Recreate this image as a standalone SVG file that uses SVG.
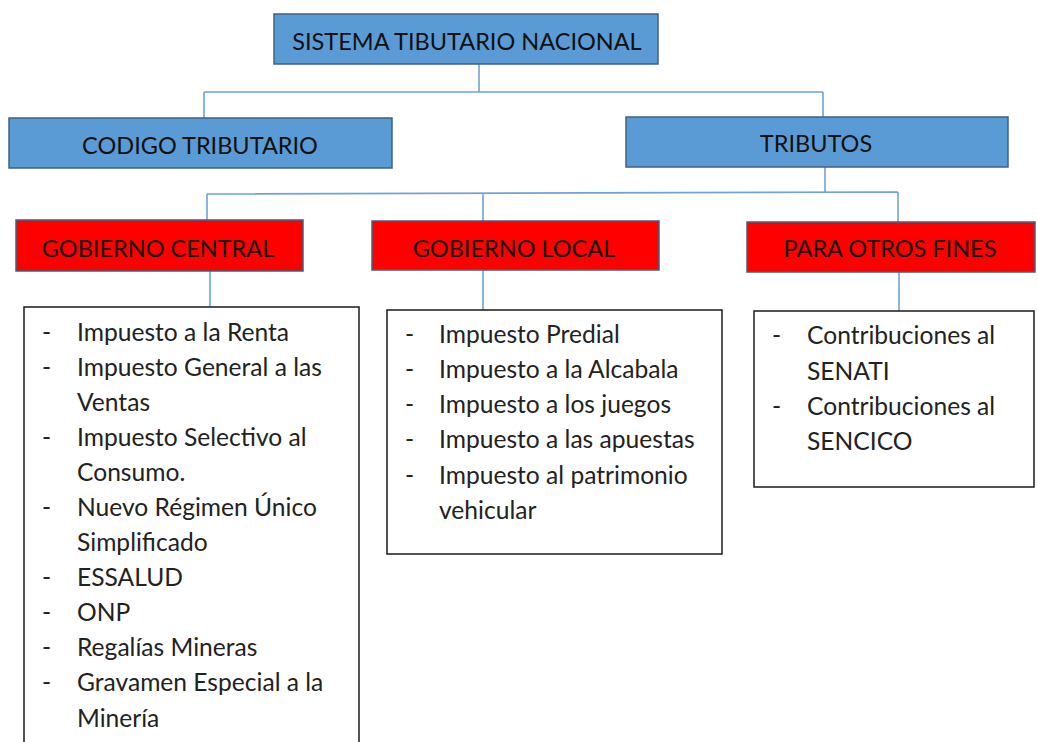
<svg xmlns="http://www.w3.org/2000/svg" width="1038" height="742" viewBox="0 0 1038 742">
<style>
.blue{fill:#5b9bd5;stroke:#41607f;stroke-width:1.5}
.red{fill:#ff0000;stroke:#41607f;stroke-width:1.5}
.list{fill:#ffffff;stroke:#1a1a1a;stroke-width:1.5}
.hd{font-family:Lato,"Open Sans","Liberation Sans",sans-serif;font-size:23.5px;fill:#111;text-anchor:middle}
.it{font-family:Lato,"Open Sans","Liberation Sans",sans-serif;font-size:24.6px;fill:#222}
.conn{fill:none;stroke:#6fa3d8;stroke-width:1.6}
</style>
<rect width="1038" height="742" fill="#ffffff"/>
<g id="connectors">
<path class="conn" d="M479,64 V92 M204,92 H823 M204,92 V118 M823,92 V117"/>
<path class="conn" d="M825,167 V193 M207,194 L898,192 M207,194 V220 M483,193 V221 M898,192 V222"/>
<path class="conn" d="M210,271 V307 M483,270 V310 M899,272 V311"/>
</g>
<g id="n-sistema">
<rect class="blue" x="274" y="14" width="384" height="50"/>
<text class="hd" x="467" y="50">SISTEMA TIBUTARIO NACIONAL</text>
</g>
<g id="n-codigo">
<rect class="blue" x="9" y="118" width="383" height="50"/>
<text class="hd" x="200" y="154">CODIGO TRIBUTARIO</text>
</g>
<g id="n-tributos">
<rect class="blue" x="626" y="117" width="382" height="50"/>
<text class="hd" x="816" y="152">TRIBUTOS</text>
</g>
<g id="n-central">
<rect class="red" x="16" y="220" width="287" height="51"/>
<text class="hd" x="158" y="257">GOBIERNO CENTRAL</text>
</g>
<g id="n-local">
<rect class="red" x="372" y="221" width="287" height="49"/>
<text class="hd" x="514" y="257">GOBIERNO LOCAL</text>
</g>
<g id="n-otros">
<rect class="red" x="747" y="222" width="288" height="50"/>
<text class="hd" x="890" y="257">PARA OTROS FINES</text>
</g>
<g id="n-lista-central">
<rect class="list" x="24" y="307" width="335" height="445"/>
<text class="it" x="42" y="341">-</text><text class="it" x="77" y="341">Impuesto a la Renta</text>
<text class="it" x="42" y="376">-</text><text class="it" x="77" y="376">Impuesto General a las</text>
<text class="it" x="77" y="411">Ventas</text>
<text class="it" x="42" y="446">-</text><text class="it" x="77" y="446">Impuesto Selectivo al</text>
<text class="it" x="77" y="481">Consumo.</text>
<text class="it" x="42" y="516">-</text><text class="it" x="77" y="516">Nuevo Régimen Único</text>
<text class="it" x="77" y="551">Simplificado</text>
<text class="it" x="42" y="586">-</text><text class="it" x="77" y="586">ESSALUD</text>
<text class="it" x="42" y="621">-</text><text class="it" x="77" y="621">ONP</text>
<text class="it" x="42" y="656">-</text><text class="it" x="77" y="656">Regalías Mineras</text>
<text class="it" x="42" y="691">-</text><text class="it" x="77" y="691">Gravamen Especial a la</text>
<text class="it" x="77" y="727">Minería</text>
</g>
<g id="n-lista-local">
<rect class="list" x="387" y="310" width="335" height="244"/>
<text class="it" x="405" y="343">-</text><text class="it" x="439" y="343">Impuesto Predial</text>
<text class="it" x="405" y="378">-</text><text class="it" x="439" y="378">Impuesto a la Alcabala</text>
<text class="it" x="405" y="413">-</text><text class="it" x="439" y="413">Impuesto a los juegos</text>
<text class="it" x="405" y="448">-</text><text class="it" x="439" y="448">Impuesto a las apuestas</text>
<text class="it" x="405" y="484">-</text><text class="it" x="439" y="484">Impuesto al patrimonio</text>
<text class="it" x="439" y="519">vehicular</text>
</g>
<g id="n-lista-otros">
<rect class="list" x="754" y="311" width="280" height="176"/>
<text class="it" x="772" y="344">-</text><text class="it" x="807" y="344">Contribuciones al</text>
<text class="it" x="807" y="380">SENATI</text>
<text class="it" x="772" y="415">-</text><text class="it" x="807" y="415">Contribuciones al</text>
<text class="it" x="807" y="450">SENCICO</text>
</g>
</svg>
